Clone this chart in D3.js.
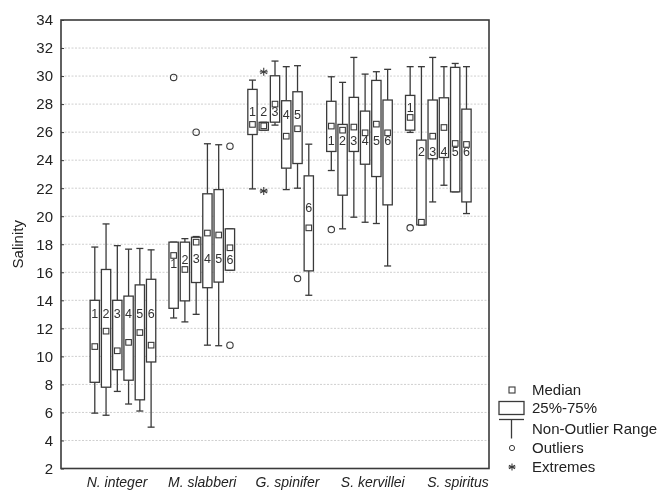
<!DOCTYPE html>
<html><head><meta charset="utf-8">
<script src="https://cdn.jsdelivr.net/npm/d3@7/dist/d3.min.js"></script>
<style>body{margin:0;background:#fff}svg{display:block;will-change:transform}text{font-family:"Liberation Sans",Arial,sans-serif}</style>
</head><body><svg id="c" width="659" height="491"></svg>
<script>
const groups = ["N. integer", "M. slabberi", "G. spinifer", "S. kervillei", "S. spiritus"];
const variables = ["1", "2", "3", "4", "5", "6"];
const yTicks = [2,4,6,8,10,12,14,16,18,20,22,24,26,28,30,32,34];
const whiskerLow = [
 [5.95, 5.8, 7.5, 6.6, 6.1, 4.95],
 [12.74, 12.46, 13.0, 10.8, 10.76, 16.15],
 [21.95, 26.14, 26.5, 21.9, 22.0, 14.36],
 [23.26, 19.1, 19.93, 19.57, 19.48, 16.45],
 [25.98, 19.38, 21.02, 22.21, 21.74, 20.19]];
const q1 = [
 [8.15, 7.8, 9.05, 8.3, 6.9, 9.6],
 [13.43, 13.96, 15.27, 14.9, 15.3, 16.15],
 [25.83, 26.14, 26.71, 23.43, 23.76, 16.1],
 [24.62, 21.5, 24.62, 23.71, 22.83, 20.81],
 [26.14, 19.38, 24.1, 24.19, 21.74, 21.02]];
const medians = [
 [10.7, 11.8, 10.4, 11.0, 11.7, 10.8],
 [17.2, 16.2, 18.15, 18.8, 18.66, 17.75],
 [26.55, 26.45, 28.0, 25.71, 26.24, 19.17],
 [26.43, 26.14, 26.36, 25.95, 26.57, 25.95],
 [27.05, 19.57, 25.71, 26.33, 25.19, 25.12]];
const q3 = [
 [14.0, 16.2, 14.0, 14.3, 15.1, 15.5],
 [18.15, 18.15, 18.5, 21.6, 21.9, 19.1],
 [29.05, 26.7, 30.02, 28.24, 28.88, 22.88],
 [28.2, 26.55, 28.48, 27.5, 29.69, 28.29],
 [28.62, 25.43, 28.29, 28.45, 30.62, 27.64]];
const whiskerHigh = [
 [17.8, 19.45, 17.9, 17.65, 17.7, 17.6],
 [18.15, 18.4, 18.55, 25.17, 25.1, 19.1],
 [29.71, 26.7, 31.07, 30.67, 30.74, 25.14],
 [29.95, 29.55, 31.33, 30.14, 30.31, 30.48],
 [30.67, 30.67, 31.33, 30.67, 30.9, 30.67]];
const labelValue = [
 [13.05, 13.05, 13.05, 13.05, 13.05, 13.05],
 [16.6, 16.9, 17.0, 17.0, 17.0, 16.9],
 [27.45, 27.45, 27.45, 27.26, 27.26, 20.6],
 [25.43, 25.43, 25.43, 25.43, 25.43, 25.43],
 [27.76, 24.6, 24.65, 24.65, 24.6, 24.6]];
const outlierGroup = [1, 1, 1, 1, 2, 3, 4];
const outlierVar   = [0, 2, 5, 5, 4, 0, 0];
const outlierValue = [29.9, 26.0, 25.0, 10.8, 15.55, 19.05, 19.17];
const extremeGroup = [2, 2];
const extremeVar   = [1, 1];
const extremeValue = [30.3, 21.8];
const legendItems = ["Median", "25%-75%", "Non-Outlier Range", "Outliers", "Extremes"];

const svg = d3.select("#c");
svg.append("rect").attr("width", 659).attr("height", 491).attr("fill", "#fff");
const L = 61, R = 489, T = 20, B = 468.5;
const ink = "#3a3a3a";
const y = d3.scaleLinear().domain([2, 34]).range([B, T]);
const slots = 7; // 6 boxes + gap per group
const x = d3.scaleLinear().domain([0, 38]).range([L, R]);
const pos = (g, i) => x(3 + slots * g + i);
const bw = 9.3, cap = 7, ms = 5.6;

// grid
svg.append("g").selectAll("line").data(yTicks.filter(t => t > 2 && t < 34)).join("line")
  .attr("x1", L).attr("x2", R).attr("y1", d => y(d)).attr("y2", d => y(d))
  .attr("stroke", "#cfcfcf").attr("stroke-width", 1).attr("stroke-dasharray", "2,1.5");

// y axis
const ya = d3.axisLeft(y).tickValues(yTicks).tickSize(-3).tickPadding(8).tickFormat(d3.format("d"));
const yg = svg.append("g").attr("transform", `translate(${L},0)`).call(ya);
yg.select(".domain").remove();
yg.selectAll("line").attr("stroke", ink);
yg.selectAll("text").attr("font-size", 15).attr("fill", "#222");

// frame
svg.append("rect").attr("x", L).attr("y", T).attr("width", R - L).attr("height", B - T)
  .attr("fill", "none").attr("stroke", ink).attr("stroke-width", 1.6);

// boxes
const data = [];
groups.forEach((gname, g) => variables.forEach((v, i) => data.push({
  g, i, lo: whiskerLow[g][i], q1: q1[g][i], med: medians[g][i], q3: q3[g][i], hi: whiskerHigh[g][i], lab: labelValue[g][i], name: v })));

const bx = svg.append("g").selectAll("g").data(data).join("g");
bx.append("line").attr("x1", d => pos(d.g, d.i)).attr("x2", d => pos(d.g, d.i))
  .attr("y1", d => y(d.hi)).attr("y2", d => y(d.q3)).attr("stroke", ink).attr("stroke-width", 1.3);
bx.append("line").attr("x1", d => pos(d.g, d.i)).attr("x2", d => pos(d.g, d.i))
  .attr("y1", d => y(d.q1)).attr("y2", d => y(d.lo)).attr("stroke", ink).attr("stroke-width", 1.3);
bx.append("line").attr("x1", d => pos(d.g, d.i) - cap / 2).attr("x2", d => pos(d.g, d.i) + cap / 2)
  .attr("y1", d => y(d.hi)).attr("y2", d => y(d.hi)).attr("stroke", ink).attr("stroke-width", 1.3);
bx.append("line").attr("x1", d => pos(d.g, d.i) - cap / 2).attr("x2", d => pos(d.g, d.i) + cap / 2)
  .attr("y1", d => y(d.lo)).attr("y2", d => y(d.lo)).attr("stroke", ink).attr("stroke-width", 1.3);
bx.append("rect").attr("x", d => pos(d.g, d.i) - bw / 2).attr("width", bw)
  .attr("y", d => y(d.q3)).attr("height", d => Math.max(1, y(d.q1) - y(d.q3)))
  .attr("fill", "#fff").attr("stroke", ink).attr("stroke-width", 1.3);
bx.append("text").attr("x", d => pos(d.g, d.i)).attr("y", d => y(d.lab))
  .attr("text-anchor", "middle").attr("dy", "0.36em").attr("font-size", 12.5).attr("fill", "#333")
  .text(d => d.name);
bx.append("rect").attr("x", d => pos(d.g, d.i) - ms / 2).attr("y", d => y(d.med) - ms / 2)
  .attr("width", ms).attr("height", ms).attr("fill", "#fff").attr("stroke", ink).attr("stroke-width", 1.1);

// outliers
svg.append("g").selectAll("circle").data(outlierValue.map((v, k) => ({ g: outlierGroup[k], i: outlierVar[k], v })))
  .join("circle").attr("cx", d => pos(d.g, d.i)).attr("cy", d => y(d.v)).attr("r", 3.2)
  .attr("fill", "none").attr("stroke", ink).attr("stroke-width", 1.1);

// extremes
const star = (sel, cx, cy, r) => {
  [0, 60, 120].forEach(a => {
    const rad = a * Math.PI / 180;
    sel.append("line").attr("x1", cx - r * Math.sin(rad)).attr("x2", cx + r * Math.sin(rad))
      .attr("y1", cy - r * Math.cos(rad)).attr("y2", cy + r * Math.cos(rad))
      .attr("stroke", ink).attr("stroke-width", 1.1);
  });
  sel.append("line").attr("x1", cx - r).attr("x2", cx + r).attr("y1", cy).attr("y2", cy).attr("stroke", ink).attr("stroke-width", 1.1);
};
const eg = svg.append("g");
extremeValue.forEach((v, k) => star(eg, pos(extremeGroup[k], extremeVar[k]), y(v), 4));

// x labels
const xl = d3.scaleLinear().domain([0, groups.length - 1]).range([117, 458]);
svg.append("g").selectAll("text").data(groups).join("text")
  .attr("x", (d, k) => xl(k)).attr("y", 487).attr("text-anchor", "middle")
  .attr("font-size", 14).attr("font-style", "italic").attr("fill", "#222").text(d => d);

// y title
svg.append("text").attr("transform", `translate(23,${(T + B) / 2}) rotate(-90)`)
  .attr("text-anchor", "middle").attr("font-size", 15).attr("fill", "#222").text("Salinity");

// legend
const lg = svg.append("g");
const rowY = [390, 408, 428.5, 448, 467];
const sx = 499, sw = 25, mx = 512;
lg.append("rect").attr("x", mx - 3).attr("y", rowY[0] - 3).attr("width", 6).attr("height", 6)
  .attr("fill", "#fff").attr("stroke", ink).attr("stroke-width", 1.1);
lg.append("rect").attr("x", sx).attr("y", rowY[1] - 6.5).attr("width", sw).attr("height", 13)
  .attr("fill", "#fff").attr("stroke", ink).attr("stroke-width", 1.3);
lg.append("line").attr("x1", sx).attr("x2", sx + sw).attr("y1", rowY[2] - 9).attr("y2", rowY[2] - 9).attr("stroke", ink).attr("stroke-width", 1.3);
lg.append("line").attr("x1", sx + sw / 2).attr("x2", sx + sw / 2).attr("y1", rowY[2] - 9).attr("y2", rowY[2] + 10).attr("stroke", ink).attr("stroke-width", 1.3);
lg.append("circle").attr("cx", mx).attr("cy", rowY[3]).attr("r", 2.6).attr("fill", "none").attr("stroke", ink).attr("stroke-width", 1);
star(lg, mx, rowY[4], 3.5);
lg.selectAll("text").data(legendItems).join("text").attr("x", 532).attr("y", (d, k) => rowY[k])
  .attr("dy", "0.36em").attr("font-size", 15).attr("fill", "#222").text(d => d);
</script></body></html>
